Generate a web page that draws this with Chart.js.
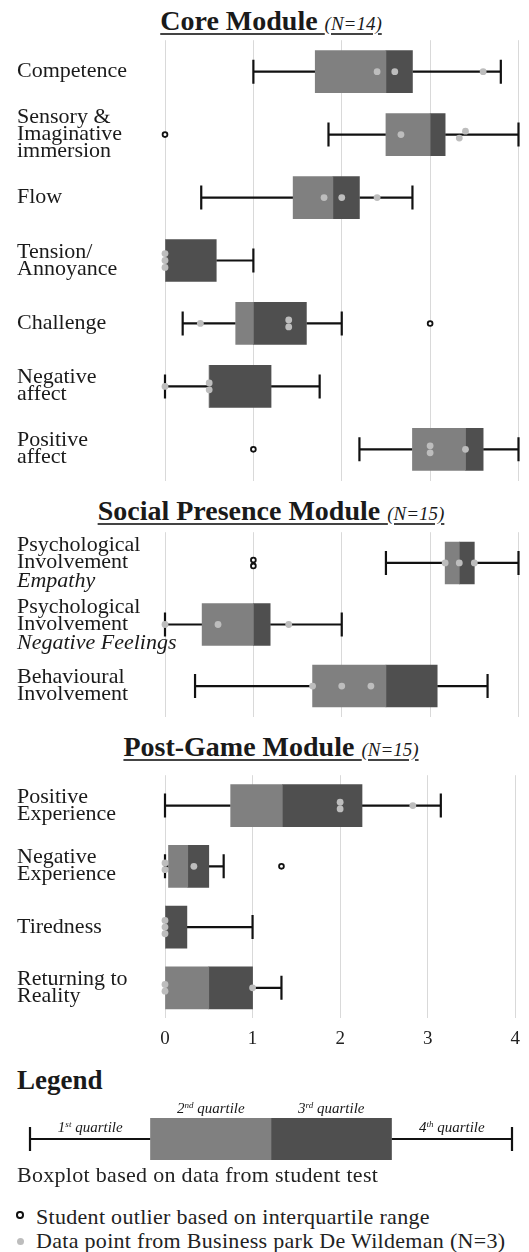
<!DOCTYPE html>
<html>
<head>
<meta charset="utf-8">
<script src="https://cdn.jsdelivr.net/npm/chart.js@4.4.0/dist/chart.umd.min.js"></script>
<style>
  html, body { margin: 0; padding: 0; background: #fff; }
  body { width: 529px; height: 1252px; position: relative; overflow: hidden;
         font-family: 'Liberation Serif', 'Times New Roman', serif; color: #1a1a1a; }
  canvas { position: absolute; left: 0; }
  .ttl { position: absolute; left: 0; width: 542px; text-align: center; white-space: nowrap;
         font-weight: bold; font-size: 28px; line-height: 28px;
         text-decoration: underline; text-decoration-color: #444;
         text-decoration-thickness: 1.5px; text-underline-offset: 3px; }
  .ttl i { font-weight: normal; font-size: 19px; }
  .txt { position: absolute; font-size: 22px; line-height: 22px; letter-spacing: 0.3px; white-space: nowrap; color: #222; }
  .head { position: absolute; left: 17px; font-size: 27px; line-height: 27px; font-weight: bold; }
  .ring { position: absolute; width: 3.4px; height: 3.4px; border: 2px solid #111; border-radius: 50%; }
  .dot { position: absolute; width: 7px; height: 7px; background: #bdbdbd; border-radius: 50%; }
</style>
</head>
<body>
<div class="ttl" style="top:6.5px">Core Module <i>(N=14)</i></div>
<canvas id="core" width="529" height="449" style="top:36px"></canvas>

<div class="ttl" style="top:496.5px">Social Presence Module <i>(N=15)</i></div>
<canvas id="social" width="529" height="193" style="top:528px"></canvas>

<div class="ttl" style="top:732.5px">Post-Game Module <i>(N=15)</i></div>
<canvas id="post" width="529" height="288" style="top:771px"></canvas>

<div class="head" style="top:1067px">Legend</div>
<canvas id="legend" width="529" height="70" style="top:1095px"></canvas>
<div class="txt" style="left:17px;top:1163.6px">Boxplot based on data from student test</div>
<div class="ring" style="left:16.3px;top:1211.3px"></div>
<div class="txt" style="left:36px;top:1205.6px">Student outlier based on interquartile range</div>
<div class="dot" style="left:16.5px;top:1237.5px"></div>
<div class="txt" style="left:36px;top:1229.6px">Data point from Business park De Wildeman (N=3)</div>

<script>
// core module (N=14)
const coreLabels = [['Competence'], ['Sensory &', 'Imaginative', 'immersion'], ['Flow'],
  ['Tension/', 'Annoyance'], ['Challenge'], ['Negative', 'affect'], ['Positive', 'affect']];
const coreMin = [1.0, 1.85, 0.41, 0, 0.2, 0, 2.2];
const coreQ1 = [1.7, 2.5, 1.45, 0, 0.8, 0.5, 2.8];
const coreMed = [2.5, 3.0, 1.9, 0, 1.0, 0.5, 3.4];
const coreQ3 = [2.8, 3.17, 2.2, 0.58, 1.6, 1.2, 3.6];
const coreMax = [3.8, 4.0, 2.8, 1.0, 2.0, 1.75, 4.0];
const corePoints = [[2.4, 2.6, 3.6], [2.67, 3.4, 3.33], [1.8, 2.0, 2.4], [0, 0, 0],
  [0.4, 1.4, 1.4], [0, 0.5, 0.5], [3.0, 3.0, 3.4]];
const coreOutliers = [[], [0], [], [], [3.0], [], [1.0]];

// social presence module (N=15)
const socialLabels = [['Psychological', 'Involvement'], ['Psychological', 'Involvement'], ['Behavioural', 'Involvement']];
const socialSubs = ['Empathy', 'Negative Feelings', ''];
const socialMin = [2.5, 0, 0.34];
const socialQ1 = [3.17, 0.42, 1.67];
const socialMed = [3.33, 1.0, 2.5];
const socialQ3 = [3.5, 1.19, 3.08];
const socialMax = [4.0, 2.0, 3.65];
const socialPoints = [[3.17, 3.33, 3.5], [0, 0.6, 1.4], [1.67, 2.0, 2.33]];
const socialOutliers = [[1.0, 1.0], [], []];

// post-game module (N=15)
const postLabels = [['Positive', 'Experience'], ['Negative', 'Experience'], ['Tiredness'], ['Returning to', 'Reality']];
const postMin = [0, 0, 0, 0];
const postQ1 = [0.75, 0.04, 0, 0];
const postMed = [1.34, 0.26, 0, 0.5];
const postQ3 = [2.25, 0.5, 0.25, 1.0];
const postMax = [3.15, 0.67, 1.0, 1.33];
const postPoints = [[2.0, 2.0, 2.83], [0, 0, 0.33], [0, 0, 0], [0, 0, 1.0]];
const postOutliers = [[], [1.33], [], []];

const xTicks = [0, 1, 2, 3, 4];

// legend: min, q1, median, q3, max
const legendStats = [0, 1, 2, 3, 4];
const legendOrd = ['1', '2', '3', '4'];
const legendSup = ['st', 'nd', 'rd', 'th'];

Chart.defaults.font.family = "'Liberation Serif', 'Times New Roman', serif";
Chart.defaults.color = '#222';

const LIGHT = '#808080', DARK = '#4f4f4f', DOT = '#bdbdbd', INK = '#111';

// stack points with (nearly) the same value on top of each other
function dodge(rows, step) {
  const out = [];
  rows.forEach((vals, row) => {
    const groups = [];
    vals.forEach(v => {
      const g = groups.find(g => Math.abs(g[0] - v) < 0.08);
      if (g) g.push(v); else groups.push([v]);
    });
    groups.forEach(g => g.forEach((v, k) => out.push({ x: v, y: row + (k - (g.length - 1) / 2) * step })));
  });
  return out;
}

function whiskers(mn, q1, q3, mx) {
  return {
    id: 'whiskers',
    beforeDatasetsDraw(chart) {
      const { ctx, scales: { x, y } } = chart;
      ctx.save();
      ctx.strokeStyle = INK;
      ctx.lineWidth = 2.2;
      const seg = (a, b, yc) => {
        ctx.beginPath();
        ctx.moveTo(x.getPixelForValue(a), yc);
        ctx.lineTo(x.getPixelForValue(b), yc);
        ctx.moveTo(x.getPixelForValue(a), yc - 12);
        ctx.lineTo(x.getPixelForValue(a), yc + 12);
        ctx.stroke();
      };
      mn.forEach((v, i) => {
        const yc = y.getPixelForValue(i);
        if (v < q1[i]) seg(v, q1[i], yc);
        if (mx[i] > q3[i]) seg(mx[i], q3[i], yc);
      });
      ctx.restore();
    }
  };
}

function rowLabels(labels, subs) {
  return {
    id: 'rowLabels',
    afterDraw(chart) {
      const { ctx } = chart, y = chart.scales.y;
      ctx.save();
      ctx.fillStyle = '#1a1a1a';
      ctx.textBaseline = 'alphabetic';
      labels.forEach((lines, i) => {
        const all = lines.concat(subs && subs[i] ? [subs[i]] : []);
        const yc = y.getPixelForValue(i);
        all.forEach((t, k) => {
          const italic = k >= lines.length;
          ctx.font = (italic ? 'italic ' : '') + "22px 'Liberation Serif'";
          ctx.fillText(t, 17, yc + (k - (all.length - 1) / 2) * 17 + 5.5 + (italic ? 2 : 0));
        });
      });
      ctx.restore();
    }
  };
}

function boxChart(id, labels, subs, mn, q1, md, q3, mx, pts, outs, showTicks) {
  const n = labels.length;
  return new Chart(document.getElementById(id), {
    type: 'bar',
    data: {
      labels: labels.map(l => l.join(' ')),
      datasets: [
        { type: 'scatter', data: dodge(outs, 0.095), xAxisID: 'x', yAxisID: 'yp', order: 0, clip: false,
          pointRadius: 2.4, pointHoverRadius: 2.4, pointBorderWidth: 1.8,
          pointBackgroundColor: '#fff', pointBorderColor: INK },
        { type: 'scatter', data: dodge(pts, 0.11), xAxisID: 'x', yAxisID: 'yp', order: 1, clip: false,
          pointRadius: 3.4, pointHoverRadius: 3.4, pointBorderWidth: 0,
          pointBackgroundColor: DOT, pointBorderColor: DOT },
        { indexAxis: 'y', xAxisID: 'x', yAxisID: 'y', order: 2, grouped: false, barThickness: 42,
          data: q1.map((v, i) => [v, md[i]]), backgroundColor: LIGHT, borderWidth: 0 },
        { indexAxis: 'y', xAxisID: 'x', yAxisID: 'y', order: 2, grouped: false, barThickness: 42,
          data: md.map((v, i) => [v, q3[i]]), backgroundColor: DARK, borderWidth: 0 }
      ]
    },
    options: {
      responsive: false,
      animation: false,
      events: [],
      layout: { padding: { left: 165, right: 10.5, top: 0, bottom: 0 } },
      plugins: { legend: { display: false }, tooltip: { enabled: false } },
      scales: {
        x: {
          type: 'linear', offset: false, min: xTicks[0], max: xTicks[xTicks.length - 1],
          grid: { color: '#d9d9d9', lineWidth: 1, drawTicks: false, offset: false },
          border: { display: false },
          ticks: { display: showTicks, stepSize: 1, padding: 9, color: '#222', font: { size: 19 } }
        },
        y: { type: 'category', display: false, offset: true },
        yp: { type: 'linear', axis: 'y', position: 'left', display: false, bounds: 'data',
              offset: false, min: -0.5, max: n - 0.5, reverse: true }
      }
    },
    plugins: [whiskers(mn, q1, q3, mx), rowLabels(labels, subs)]
  });
}

boxChart('core', coreLabels, null, coreMin, coreQ1, coreMed, coreQ3, coreMax, corePoints, coreOutliers, false);
boxChart('social', socialLabels, socialSubs, socialMin, socialQ1, socialMed, socialQ3, socialMax, socialPoints, socialOutliers, false);
boxChart('post', postLabels, null, postMin, postQ1, postMed, postQ3, postMax, postPoints, postOutliers, true);

// legend boxplot
const [lMin, lQ1, lMed, lQ3, lMax] = legendStats;
const quartileLabels = {
  id: 'quartileLabels',
  afterDraw(chart) {
    const { ctx, chartArea, scales: { x, y } } = chart;
    const yc = y.getPixelForValue(0);
    ctx.save();
    ctx.fillStyle = '#1a1a1a';
    legendOrd.forEach((o, i) => {
      const xc = x.getPixelForValue(legendStats[i] + (legendStats[i + 1] - legendStats[i]) / 2);
      const base = (i === 0 || i === 3) ? yc - 7.5 : chartArea.top - 5;
      ctx.font = "italic 15px 'Liberation Serif'";
      const w1 = ctx.measureText(o).width, w3 = ctx.measureText(' quartile').width;
      ctx.font = "italic 9px 'Liberation Serif'";
      const w2 = ctx.measureText(legendSup[i]).width;
      const x0 = xc - (w1 + w2 + w3) / 2;
      ctx.font = "italic 15px 'Liberation Serif'";
      ctx.fillText(o, x0, base);
      ctx.font = "italic 9px 'Liberation Serif'";
      ctx.fillText(legendSup[i], x0 + w1, base - 5);
      ctx.font = "italic 15px 'Liberation Serif'";
      ctx.fillText(' quartile', x0 + w1 + w2, base);
    });
    ctx.restore();
  }
};

new Chart(document.getElementById('legend'), {
  type: 'bar',
  data: {
    labels: [''],
    datasets: [
      { indexAxis: 'y', xAxisID: 'x', yAxisID: 'y', grouped: false, barThickness: 42,
        data: [[lQ1, lMed]], backgroundColor: LIGHT, borderWidth: 0 },
      { indexAxis: 'y', xAxisID: 'x', yAxisID: 'y', grouped: false, barThickness: 42,
        data: [[lMed, lQ3]], backgroundColor: DARK, borderWidth: 0 }
    ]
  },
  options: {
    responsive: false,
    animation: false,
    events: [],
    layout: { padding: { left: 30, right: 17, top: 23, bottom: 5 } },
    plugins: { legend: { display: false }, tooltip: { enabled: false } },
    scales: {
      x: { type: 'linear', display: false, offset: false, min: lMin, max: lMax },
      y: { type: 'category', display: false, offset: true }
    }
  },
  plugins: [whiskers([lMin], [lQ1], [lQ3], [lMax]), quartileLabels]
});
</script>
</body>
</html>
